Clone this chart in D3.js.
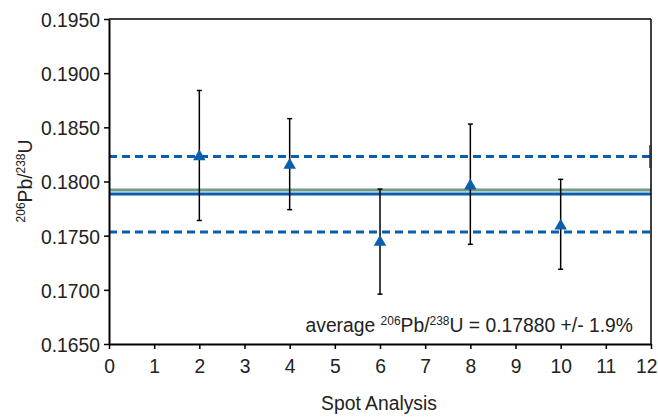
<!DOCTYPE html>
<html><head><meta charset="utf-8">
<script src="https://cdn.jsdelivr.net/npm/d3@7"></script>
<style>
body{margin:0;background:#fff;}
text{font-family:"Liberation Sans",Arial,sans-serif;}
</style></head>
<body><svg id="c" width="658" height="417"></svg>
<script>
const spots = [2, 4, 6, 8, 10];
const ratios = [0.1823, 0.1815, 0.1744, 0.1796, 0.1759];
const errLow = [0.1764, 0.1774, 0.1696, 0.1742, 0.1719];
const errHigh = [0.1884, 0.1858, 0.1793, 0.1853, 0.1802];
const average = 0.17885;
const refLine = 0.17922;
const bandUpper = 0.1823;
const bandLower = 0.17534;
const xTicks = d3.range(0, 13);
const yTicks = [0.165, 0.170, 0.175, 0.180, 0.185, 0.190, 0.195];

const SX = 0.92;
const svg = d3.select("#c");
const L = 109, R = 651, T = 19, B = 344;
const x = d3.scaleLinear().domain([0, 12]).range([L, R]);
const y = d3.scaleLinear().domain([0.165, 0.195]).range([B, T]);
const blue = "#0a5fad";

[bandUpper, bandLower].forEach(v => {
  svg.append("line").attr("x1", x(0)).attr("x2", x(12)).attr("y1", y(v)).attr("y2", y(v))
    .attr("stroke", blue).attr("stroke-width", 3).attr("stroke-dasharray", "8,5");
});
svg.append("line").attr("x1", x(0)).attr("x2", x(12)).attr("y1", y(refLine)).attr("y2", y(refLine))
  .attr("stroke", "#6e9c86").attr("stroke-width", 3);
svg.append("line").attr("x1", x(0)).attr("x2", x(12)).attr("y1", y(average)).attr("y2", y(average))
  .attr("stroke", blue).attr("stroke-width", 3);

const g = svg.append("g");
spots.forEach((s, i) => {
  g.append("line").attr("x1", x(s)).attr("x2", x(s)).attr("y1", y(errLow[i])).attr("y2", y(errHigh[i]))
    .attr("stroke", "#000").attr("stroke-width", 1.5);
  [errLow[i], errHigh[i]].forEach(v => {
    g.append("line").attr("x1", x(s) - 2.5).attr("x2", x(s) + 2.5).attr("y1", y(v)).attr("y2", y(v))
      .attr("stroke", "#000").attr("stroke-width", 1.5);
  });
});
const tri = d3.symbol().type(d3.symbolTriangle).size(68);
spots.forEach((s, i) => {
  svg.append("path").attr("d", tri()).attr("transform", `translate(${x(s)},${y(ratios[i])})`)
    .attr("fill", blue);
});

const yAxis = d3.axisLeft(y).tickValues(yTicks).tickFormat(d3.format(".4f")).tickSize(5).tickSizeOuter(0);
const ya = svg.append("g").attr("transform", `translate(${L},0)`).call(yAxis);
ya.select(".domain").attr("stroke", "#000").attr("stroke-width", 2);
ya.selectAll(".tick line").attr("stroke", "#000").attr("stroke-width", 1.5);
ya.selectAll(".tick text").attr("font-size", 21).attr("fill", "#222")
  .attr("x", -9 / SX).attr("dy", "0.35em").attr("transform", `scale(${SX},1)`);

const xAxis = d3.axisBottom(x).tickValues(xTicks).tickSize(5).tickSizeOuter(0);
const xa = svg.append("g").attr("transform", `translate(0,${B})`).call(xAxis);
xa.select(".domain").attr("stroke", "#000").attr("stroke-width", 2);
xa.selectAll(".tick line").attr("stroke", "#000").attr("stroke-width", 1.5);
xa.selectAll(".tick text").attr("font-size", 21).attr("fill", "#222").attr("y", 14).attr("dy", "0.71em")
  .attr("transform", `scale(${SX},1)`);
xa.selectAll(".tick text").filter(d => d === 12).attr("text-anchor", "end").attr("x", 6 / SX);

svg.append("line").attr("x1", L).attr("x2", R).attr("y1", T).attr("y2", T).attr("stroke", "#000").attr("stroke-width", 1.5);
svg.append("line").attr("x1", R).attr("x2", R).attr("y1", T).attr("y2", B).attr("stroke", "#000").attr("stroke-width", 1.5);
svg.append("line").attr("x1", R - 0.5).attr("x2", R - 0.5).attr("y1", 145).attr("y2", 168).attr("stroke", "#333").attr("stroke-width", 2.5);

svg.append("text").attr("transform", `translate(${(L + R) / 2 - 1},410) scale(${SX},1)`).attr("text-anchor", "middle")
  .attr("font-size", 21).attr("fill", "#222").text("Spot Analysis");

const yl = svg.append("text").attr("transform", `translate(32,181) rotate(-90) scale(${SX},1)`).attr("text-anchor", "middle")
  .attr("font-size", 21).attr("fill", "#222");
yl.append("tspan").attr("font-size", 13).attr("dy", -7).text("206");
yl.append("tspan").attr("dy", 7).text("Pb/");
yl.append("tspan").attr("font-size", 13).attr("dy", -7).text("238");
yl.append("tspan").attr("dy", 7).text("U");

const an = svg.append("text").attr("transform", `translate(633,332) scale(${SX},1)`).attr("text-anchor", "end")
  .attr("font-size", 21).attr("fill", "#222");
an.append("tspan").text("average ");
an.append("tspan").attr("font-size", 13).attr("dy", -7).text("206");
an.append("tspan").attr("dy", 7).text("Pb/");
an.append("tspan").attr("font-size", 13).attr("dy", -7).text("238");
an.append("tspan").attr("dy", 7).text("U = 0.17880 +/- 1.9%");
</script></body></html>
